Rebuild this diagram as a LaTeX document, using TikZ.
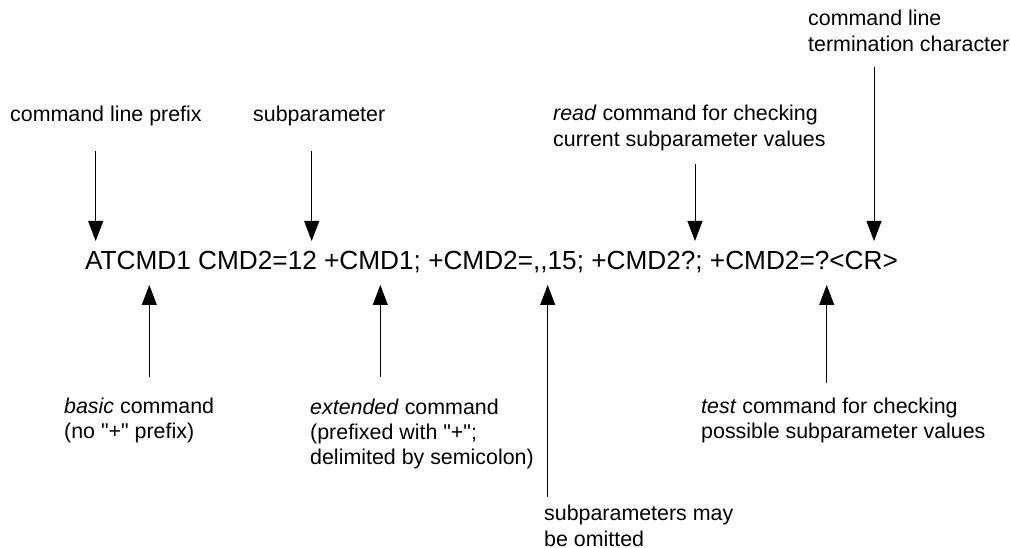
\documentclass[tikz,border=0pt]{standalone}
\usepackage{fontspec}
\setmainfont{Liberation Sans}[Ligatures=TeXOff]
\usetikzlibrary{arrows.meta}
\begin{document}
\begin{tikzpicture}[x=1pt,y=-1pt,
  lbl/.style={anchor=base west,inner sep=0pt,align=left,font=\fontsize{21.4}{25.2}\selectfont},
  cmdline/.style={anchor=base west,inner sep=0pt,font=\fontsize{26.2}{31}\selectfont},
  ptr/.style={line width=0.8pt,-{Triangle[width=15pt,length=20pt]}}]
\useasboundingbox (0,0) rectangle (1010,548);
% main command line
\node[cmdline] (cmd) at (85,270) {ATCMD1 CMD2=12 +CMD1; +CMD2=,,15; +CMD2?; +CMD2=?<CR>};
% top labels (anchor = baseline of last line)
\node[lbl] (prefix) at (10,122) {command line prefix};
\node[lbl] (subpar) at (253,122) {subparameter};
\node[lbl] (read) at (553,146.2) {\textit{read} command for checking\\current subparameter values};
\node[lbl] (term) at (808,51.2) {command line\\termination character};
% bottom labels
\node[lbl] (basic) at (64,438.2) {\textit{basic} command\\(no "+" prefix)};
\node[lbl] (ext) at (310,464.4) {\textit{extended} command\\(prefixed with "+";\\delimited by semicolon)};
\node[lbl] (omit) at (544,546) {subparameters may\\be omitted};
\node[lbl] (test) at (701,438.2) {\textit{test} command for checking\\possible subparameter values};
% arrow end points
\coordinate (p1s) at (95.7,151); \coordinate (p1e) at (95.7,241);
\coordinate (p2s) at (311.7,151); \coordinate (p2e) at (311.7,241);
\coordinate (p3s) at (695,164); \coordinate (p3e) at (695,241);
\coordinate (p4s) at (874,67); \coordinate (p4e) at (874,241);
\coordinate (q1s) at (149.3,377); \coordinate (q1e) at (149.3,285);
\coordinate (q2s) at (380.3,377); \coordinate (q2e) at (380.3,285);
\coordinate (q3s) at (547.7,497); \coordinate (q3e) at (547.7,285);
\coordinate (q4s) at (826.7,383); \coordinate (q4e) at (826.7,285);
\draw[ptr] (p1s) -- (p1e);
\draw[ptr] (p2s) -- (p2e);
\draw[ptr] (p3s) -- (p3e);
\draw[ptr] (p4s) -- (p4e);
\draw[ptr] (q1s) -- (q1e);
\draw[ptr] (q2s) -- (q2e);
\draw[ptr] (q3s) -- (q3e);
\draw[ptr] (q4s) -- (q4e);
\end{tikzpicture}
\end{document}
